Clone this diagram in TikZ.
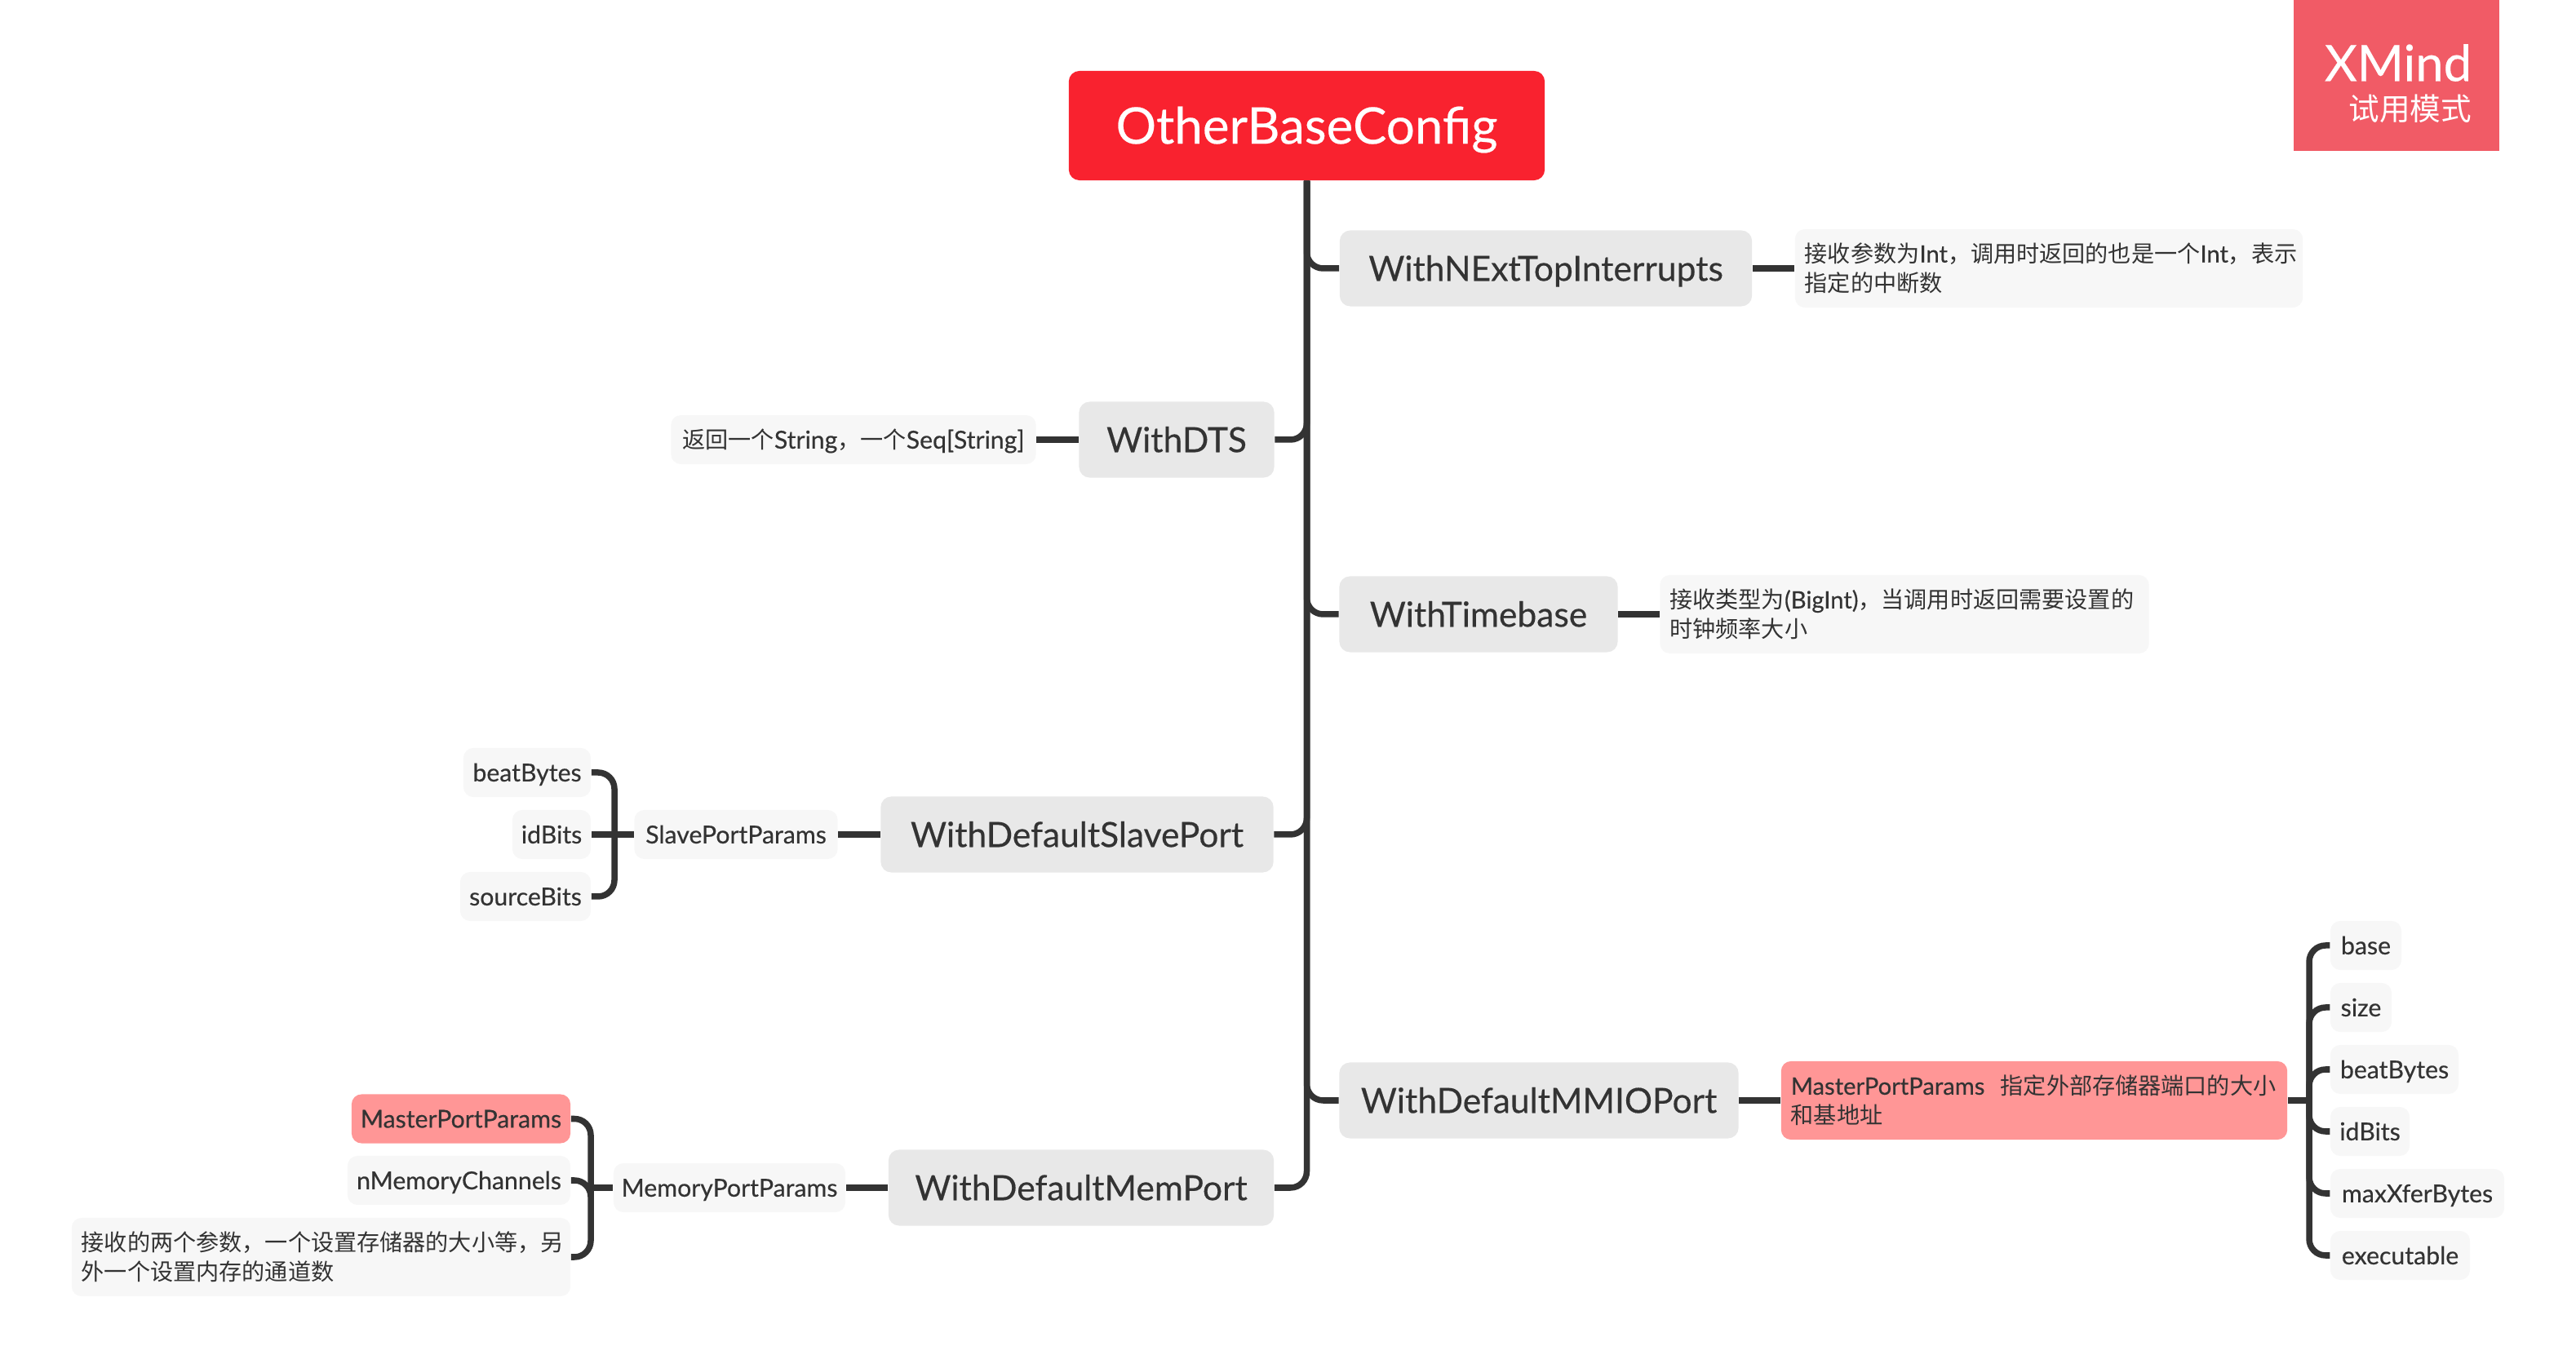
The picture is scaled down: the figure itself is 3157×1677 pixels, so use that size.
\documentclass[tikz,border=0pt]{standalone}
\usepackage{fontspec}
\setmainfont{Lato}[RawFeature={embolden=0.35}]
\newfontfamily\cjk{Noto Sans CJK SC}
\newcommand{\cn}[1]{{\fontsize{8}{10.2}\cjk #1}}
\definecolor{rootred}{HTML}{F9222F}
\definecolor{markred}{HTML}{F15B66}
\definecolor{mainfill}{HTML}{E8E8E8}
\definecolor{subfill}{HTML}{F7F7F7}
\definecolor{hifill}{HTML}{FF9696}
\definecolor{inkdark}{HTML}{333333}
\tikzset{
  rootbox/.style={fill=rootred,text=white,rounded corners=0.13cm,minimum height=1.34cm,inner sep=0pt,font=\fontsize{17.6}{21}\selectfont,text height=15.1pt,text depth=2.5pt},
  mainbox/.style={fill=mainfill,text=inkdark,rounded corners=0.13cm,minimum height=0.93cm,inner sep=0pt,font=\fontsize{12.1}{14}\selectfont,text height=10.4pt,text depth=1.7pt},
  subbox/.style={fill=subfill,text=inkdark,rounded corners=0.12cm,minimum height=0.6cm,inner sep=0pt,font=\fontsize{8.6}{10.2}\selectfont,text height=7.4pt,text depth=1.2pt},
  notebox/.style={fill=subfill,text=inkdark,rounded corners=0.12cm,font=\fontsize{8.3}{10.2}\selectfont,align=left,inner xsep=0.12cm,minimum height=0.96cm},
  link/.style={draw=inkdark,line width=0.075cm,rounded corners=0.2cm},
}
\begin{document}
\begin{tikzpicture}[x=0.01cm,y=-0.01cm]
  \useasboundingbox (0,0) rectangle (3157,1677);

  \node[rootbox,minimum width=5.83cm] (Root) at (1601.5,154) {OtherBaseConfig};

  \node[mainbox,minimum width=5.05cm] (NExt) at (1894.5,329) {WithNExtTopInterrupts};
  \node[notebox,text width=5.98cm] (NExtNote) at (2511,329) {\mbox{\cn{接收参数为}Int\cn{，调用时返回的也是一个}Int\cn{，表示}}\\\cn{指定的中断数}};

  \node[mainbox,minimum width=2.39cm] (DTS) at (1442,539) {WithDTS};
  \node[subbox,minimum width=4.47cm] (DTSNote) at (1046,539) {\cn{返回一个}String\cn{，一个}Seq[String]};

  \node[mainbox,minimum width=3.41cm] (Timebase) at (1812,753) {WithTimebase};
  \node[notebox,text width=5.75cm] (TimebaseNote) at (2334,753) {\mbox{\cn{接收类型为}(BigInt)\cn{，当调用时返回需要设置的}}\\\cn{时钟频率大小}};

  \node[mainbox,minimum width=4.81cm] (Slave) at (1320,1023) {WithDefaultSlavePort};
  \node[subbox,minimum width=2.49cm] (SlaveP) at (902,1023) {SlavePortParams};
  \node[subbox,minimum width=1.56cm] (SBeat) at (646,947) {beatBytes};
  \node[subbox,minimum width=0.96cm] (SId) at (676,1023) {idBits};
  \node[subbox,minimum width=1.60cm] (SSource) at (644,1099) {sourceBits};
  \coordinate (SBus) at (753,1023);

  \node[mainbox,minimum width=4.89cm] (MMIO) at (1886,1349) {WithDefaultMMIOPort};
  \node[notebox,text width=5.96cm,fill=hifill] (MMIOP) at (2493,1349) {\mbox{MasterPortParams\ \ \cn{指定外部存储器端口的大小}}\\\cn{和基地址}};
  \node[subbox,minimum width=0.87cm] (MBase) at (2899.5,1159) {base};
  \node[subbox,minimum width=0.75cm] (MSize) at (2893.5,1235) {size};
  \node[subbox,minimum width=1.57cm] (MBeat) at (2934.5,1311) {beatBytes};
  \node[subbox,minimum width=0.97cm] (MId) at (2904.5,1387) {idBits};
  \node[subbox,minimum width=2.13cm] (MMax) at (2962.5,1463) {maxXferBytes};
  \node[subbox,minimum width=1.71cm] (MExec) at (2941.5,1539) {executable};
  \coordinate (MBus) at (2830,1349);

  \node[mainbox,minimum width=4.72cm] (Mem) at (1325,1456) {WithDefaultMemPort};
  \node[subbox,minimum width=2.84cm] (MemP) at (894,1456) {MemoryPortParams};
  \node[subbox,minimum width=2.68cm,fill=hifill] (EMaster) at (565,1371.5) {MasterPortParams};
  \node[subbox,minimum width=2.73cm] (EChan) at (562.5,1447) {nMemoryChannels};
  \node[notebox,text width=5.87cm] (ELong) at (393.5,1541) {\mbox{\cn{接收的两个参数，一个设置存储器的大小等，另}}\\\cn{外一个设置内存的通道数}};
  \coordinate (EBus) at (724,1456);

  \node[fill=markred,minimum width=2.52cm,minimum height=1.85cm] (Mark) at (2937,92.5) {};
  \node[text=white,inner sep=0pt,text width=2.2cm,align=right,font=\fontsize{17.5}{19}\selectfont] (MarkA) at (2919,77) {XMind};
  \node[text=white,inner sep=0pt,text width=2.2cm,align=right] (MarkB) at (2919,133) {{\fontsize{10.7}{13}\cjk 试用模式}};

  \draw[link] (Root.south) |- (NExt.west);
  \draw[link] (Root.south) |- (DTS.east);
  \draw[link] (Root.south) |- (Timebase.west);
  \draw[link] (Root.south) |- (Slave.east);
  \draw[link] (Root.south) |- (MMIO.west);
  \draw[link] (Root.south) |- (Mem.east);

  \draw[link] (NExt) -- (NExtNote);
  \draw[link] (DTS) -- (DTSNote);
  \draw[link] (Timebase) -- (TimebaseNote);
  \draw[link] (Slave) -- (SlaveP);
  \draw[link] (MMIO) -- (MMIOP);
  \draw[link] (Mem) -- (MemP);

  \draw[link] (SlaveP) -- (SId);
  \draw[link] (SBus) |- (SBeat.east);
  \draw[link] (SBus) |- (SSource.east);

  \draw[link] (MMIOP.east) -- (MBus);
  \foreach \item in {MBase,MSize,MBeat,MId,MMax,MExec}
    \draw[link] (MBus) |- (\item.west);

  \draw[link] (MemP.west) -- (EBus);
  \foreach \item in {EMaster,EChan,ELong}
    \draw[link] (EBus) |- (\item.east);
\end{tikzpicture}
\end{document}
